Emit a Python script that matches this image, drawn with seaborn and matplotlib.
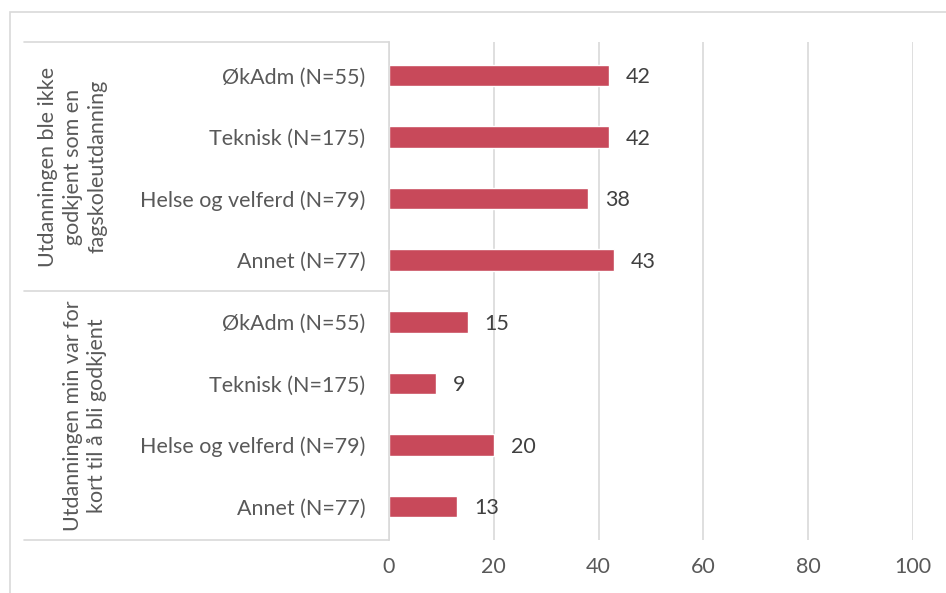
import matplotlib
matplotlib.use("Agg")
import matplotlib.pyplot as plt
from matplotlib.patches import Rectangle
import pandas as pd
import seaborn as sns

groups = [
    "Utdanningen ble ikke\ngodkjent som en\nfagskoleutdanning",
    "Utdanningen min var for\nkort til å bli godkjent",
]
categories = ["ØkAdm (N=55)", "Teknisk (N=175)", "Helse og velferd (N=79)", "Annet (N=77)"]
values_group1 = [42, 42, 38, 43]
values_group2 = [15, 9, 20, 13]
x_ticks = [0, 20, 40, 60, 80, 100]

BAR = "#C8495A"
GRID = "#D9D9D9"
TEXT = "#595959"
FS = 15.5

sns.set_theme(style="white")
plt.rcParams["font.family"] = ["Lato", "DejaVu Sans"]

rows = []
for g, vals in zip(groups, [values_group1, values_group2]):
    for c, v in zip(categories, vals):
        rows.append({"key": f"{len(rows)}", "group": g, "category": c, "value": v})
df = pd.DataFrame(rows)

W, H = 946, 593
fig = plt.figure(figsize=(W / 100, H / 100), dpi=100)
ax = fig.add_axes([389 / W, 1 - 540 / H, (913 - 389) / W, (540 - 42) / H])

sns.barplot(data=df, x="value", y="key", orient="h", color=BAR, width=0.35,
            saturation=1, ax=ax)

ax.set_xlim(0, 100)
ax.set_xticks(x_ticks)
ax.set_xticklabels([str(t) for t in x_ticks], fontsize=FS, color=TEXT)
ax.set_yticks(range(len(df)))
ax.set_yticklabels(df["category"], fontsize=FS, color=TEXT)
ax.tick_params(axis="y", length=0, pad=17)
ax.tick_params(axis="x", length=0, pad=12)
ax.set_xlabel("")
ax.set_ylabel("")
ax.grid(axis="x", color=GRID, linewidth=1.2)
ax.set_axisbelow(True)
for side in ["top", "right", "bottom"]:
    ax.spines[side].set_visible(False)
ax.spines["left"].set_color(GRID)
ax.spines["left"].set_linewidth(1.2)

for i, v in enumerate(df["value"]):
    ax.text(v + 3.2, i + 0.03, f"{v}", va="center", ha="left", fontsize=FS,
            color="#404040")

# group table lines
x_left = (24 - 389) / (913 - 389)
for yy in [0, 0.5, 1]:
    ax.plot([x_left, 0], [yy, yy], transform=ax.transAxes, color=GRID,
            linewidth=1.2, clip_on=False)

group_x = [(73 - 389) / (913 - 389), (85 - 389) / (913 - 389)]
for gx, gy, g in zip(group_x, [0.75, 0.25], groups):
    ax.text(gx, gy, g, transform=ax.transAxes, rotation=90, ha="center",
            va="center", fontsize=FS, color=TEXT, linespacing=1.3,
            multialignment="center")

# outer chart border
fig.patches.append(Rectangle((10 / W, -0.05), 1.0, 1 - 12 / H + 0.05,
                             transform=fig.transFigure, fill=False,
                             edgecolor=GRID, linewidth=1.2))

fig.savefig("out.png", dpi=100, facecolor="white")
